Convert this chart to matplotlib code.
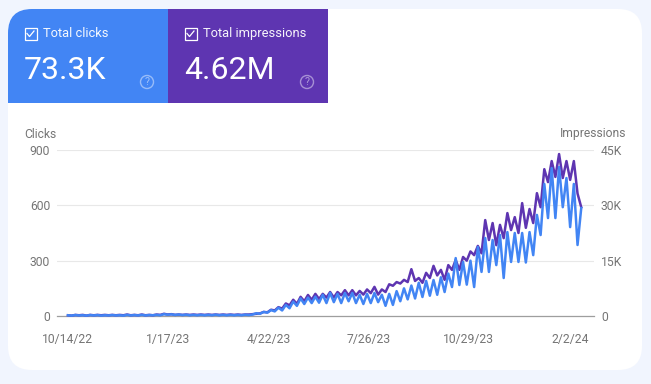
import pandas as pd
import matplotlib
matplotlib.use('Agg')
from matplotlib import pyplot as plt
from matplotlib.patches import FancyBboxPatch, Rectangle, Circle

plt.rcParams['font.family'] = ['Roboto', 'DejaVu Sans']

W, H = 651, 384
GREY = '#757575'
BLUE = '#4285f4'
PURPLE = '#5e35b1'
LABEL_SIZE = 8.7

start_date = '2022-10-14'
tick_dates = ['2022-10-14', '2023-01-17', '2023-04-22', '2023-07-26', '2023-10-29', '2024-02-02']
tick_labels = ['10/14/22', '1/17/23', '4/22/23', '7/26/23', '10/29/23', '2/2/24']

# one value every half week
clicks = [4, 2, 5, 3, 4, 2, 5, 3, 5, 2, 4, 3, 5, 3, 4, 2, 6, 3, 5, 3, 6, 3, 5, 4, 6,
          4, 10, 7, 9, 6, 8, 5, 7, 4, 6, 4, 6, 4, 6, 4, 7, 4, 6, 4, 6, 4, 6, 4, 7, 5, 8,
          15, 12, 22, 18, 32, 25, 45, 30, 60, 42, 78, 55, 95, 65, 100, 70, 105, 72, 115, 70,
          125, 75, 120, 70, 125, 80, 125, 70, 115, 65, 120, 70, 125, 75, 115, 55, 120, 60, 135, 80,
          150, 90, 165, 95, 180, 103, 190, 110, 195, 115, 210, 130, 230, 157, 314, 168, 293, 170, 300, 157,
          374, 239, 423, 239, 412, 276, 439, 206, 455, 293, 450, 293, 450, 290, 455, 330, 548, 439, 716, 531,
          802, 531, 808, 590, 748, 482, 716, 385, 585]
impressions_k = [0.2, 0.1, 0.3, 0.2, 0.3, 0.1, 0.3, 0.2, 0.3, 0.2, 0.3, 0.2, 0.3, 0.2, 0.3, 0.2, 0.4, 0.2, 0.3, 0.2, 0.4, 0.2, 0.3, 0.2, 0.4,
                 0.3, 0.6, 0.4, 0.5, 0.3, 0.4, 0.3, 0.4, 0.3, 0.4, 0.3, 0.4, 0.3, 0.4, 0.3, 0.4, 0.3, 0.4, 0.3, 0.4, 0.3, 0.4, 0.3, 0.4, 0.4, 0.5,
                 0.6, 0.7, 1.1, 1.0, 1.7, 1.5, 2.4, 2.0, 3.4, 2.9, 4.4, 3.3, 5.2, 4.0, 5.7, 4.4, 6.0, 4.6, 6.0, 5.0,
                 6.5, 5.0, 6.5, 5.6, 7.0, 5.6, 7.0, 5.6, 6.8, 5.8, 7.2, 6.2, 7.9, 5.8, 7.2, 6.5, 8.6, 8.2, 9.2, 8.8,
                 9.8, 9.2, 12.7, 9.5, 10.3, 9.0, 11.7, 10.3, 13.6, 11.0, 12.5, 9.8, 13.8, 12.5, 15.2, 12.5, 16.0, 15.0, 17.5, 16.5,
                 19.0, 17.0, 26.0, 20.6, 25.2, 19.2, 24.7, 21.1, 27.9, 23.3, 26.8, 22.5, 30.6, 23.9, 29.0, 25.2, 33.3, 29.5, 39.8, 36.3,
                 42.0, 37.7, 43.9, 37.4, 42.0, 36.9, 42.0, 33.2, 29.5]

y_ticks_left = [0, 300, 600, 900]
y_ticks_right = [0, 15, 30, 45]

dates = pd.date_range(start_date, periods=len(clicks), freq='84h')
impressions = [v * 1000 for v in impressions_k]

fig = plt.figure(figsize=(W / 100, H / 100), dpi=100, facecolor='#f1f5fe')

# page layer in pixels
bg = fig.add_axes([0, 0, 1, 1])
bg.set_xlim(0, W)
bg.set_ylim(H, 0)
bg.axis('off')
card = FancyBboxPatch((8 + 24, 9 + 24), 634 - 48, 361 - 48, boxstyle='round,pad=24,rounding_size=24',
                      fc='white', ec='none')
bg.add_patch(card)

tiles = [(8, BLUE, 'Total clicks', '73.3K'), (168, PURPLE, 'Total impressions', '4.62M')]
for x0, colour, name, total in tiles:
    tile = Rectangle((x0, 9), 160, 94, fc=colour, ec='none')
    bg.add_patch(tile)
    tile.set_clip_path(card)
    bg.add_patch(Rectangle((x0 + 16.5, 27.5), 12.3, 12.3, fc='none', ec='white', lw=0.9))
    bg.plot([x0 + 19, x0 + 21.5, x0 + 26], [33.5, 36.5, 31], color='white', lw=0.9)
    bg.text(x0 + 35, 33.5, name, color='white', fontsize=9.3, va='center', ha='left', alpha=0.95)
    bg.text(x0 + 16, 79, total, color='white', fontsize=23, va='baseline', ha='left')
    bg.add_patch(Circle((x0 + 139, 82), 6.5, fc='none', ec='white', lw=1, alpha=0.45))
    bg.text(x0 + 139, 82.3, '?', color='white', fontsize=7.5, va='center', ha='center', alpha=0.5)

# chart area: x 57..594, y 150..316
ax = fig.add_axes([57 / W, 1 - 316 / H, (594 - 57) / W, (316 - 150) / H])
ax.patch.set_alpha(0)
x_lo = pd.Timestamp(start_date) - pd.Timedelta(days=10.4)
x_hi = x_lo + pd.Timedelta(days=(594 - 57) / 1.055)
ax.set_xlim(x_lo, x_hi)
ax.set_ylim(0, 900)
ax.set_yticks(y_ticks_left)
ax.set_xticks(pd.to_datetime(tick_dates))
ax.set_xticklabels(tick_labels)
ax.grid(axis='y', color='#e8e8e8', lw=0.8)
ax.set_axisbelow(True)
for s in ax.spines.values():
    s.set_visible(False)
ax.spines['bottom'].set_visible(True)
ax.spines['bottom'].set_color('#9e9e9e')
ax.spines['bottom'].set_linewidth(0.9)
ax.tick_params(axis='x', length=0, pad=12.5, labelsize=LABEL_SIZE, labelcolor=GREY)
ax.tick_params(axis='y', length=0, pad=5, labelsize=LABEL_SIZE, labelcolor=GREY)

ax2 = ax.twinx()
ax2.set_ylim(0, 45000)
ax2.set_yticks([v * 1000 for v in y_ticks_right])
ax2.set_yticklabels(['0', '15K', '30K', '45K'])
ax2.tick_params(axis='y', length=0, pad=5, labelsize=LABEL_SIZE, labelcolor=GREY)
for s in ax2.spines.values():
    s.set_visible(False)
ax2.plot(dates, impressions, color=PURPLE, lw=1.8, solid_joinstyle='round', clip_on=False)

ax3 = ax.twinx()
ax3.set_ylim(0, 900)
ax3.axis('off')
ax3.plot(dates, clicks, color=BLUE, lw=1.8, solid_joinstyle='round', clip_on=False)

bg.text(24, 134, 'Clicks', color=GREY, fontsize=LABEL_SIZE, va='center', ha='left')
bg.text(626, 134, 'Impressions', color=GREY, fontsize=LABEL_SIZE, va='center', ha='right')

fig.savefig('out.png', dpi=100, facecolor=fig.get_facecolor())
